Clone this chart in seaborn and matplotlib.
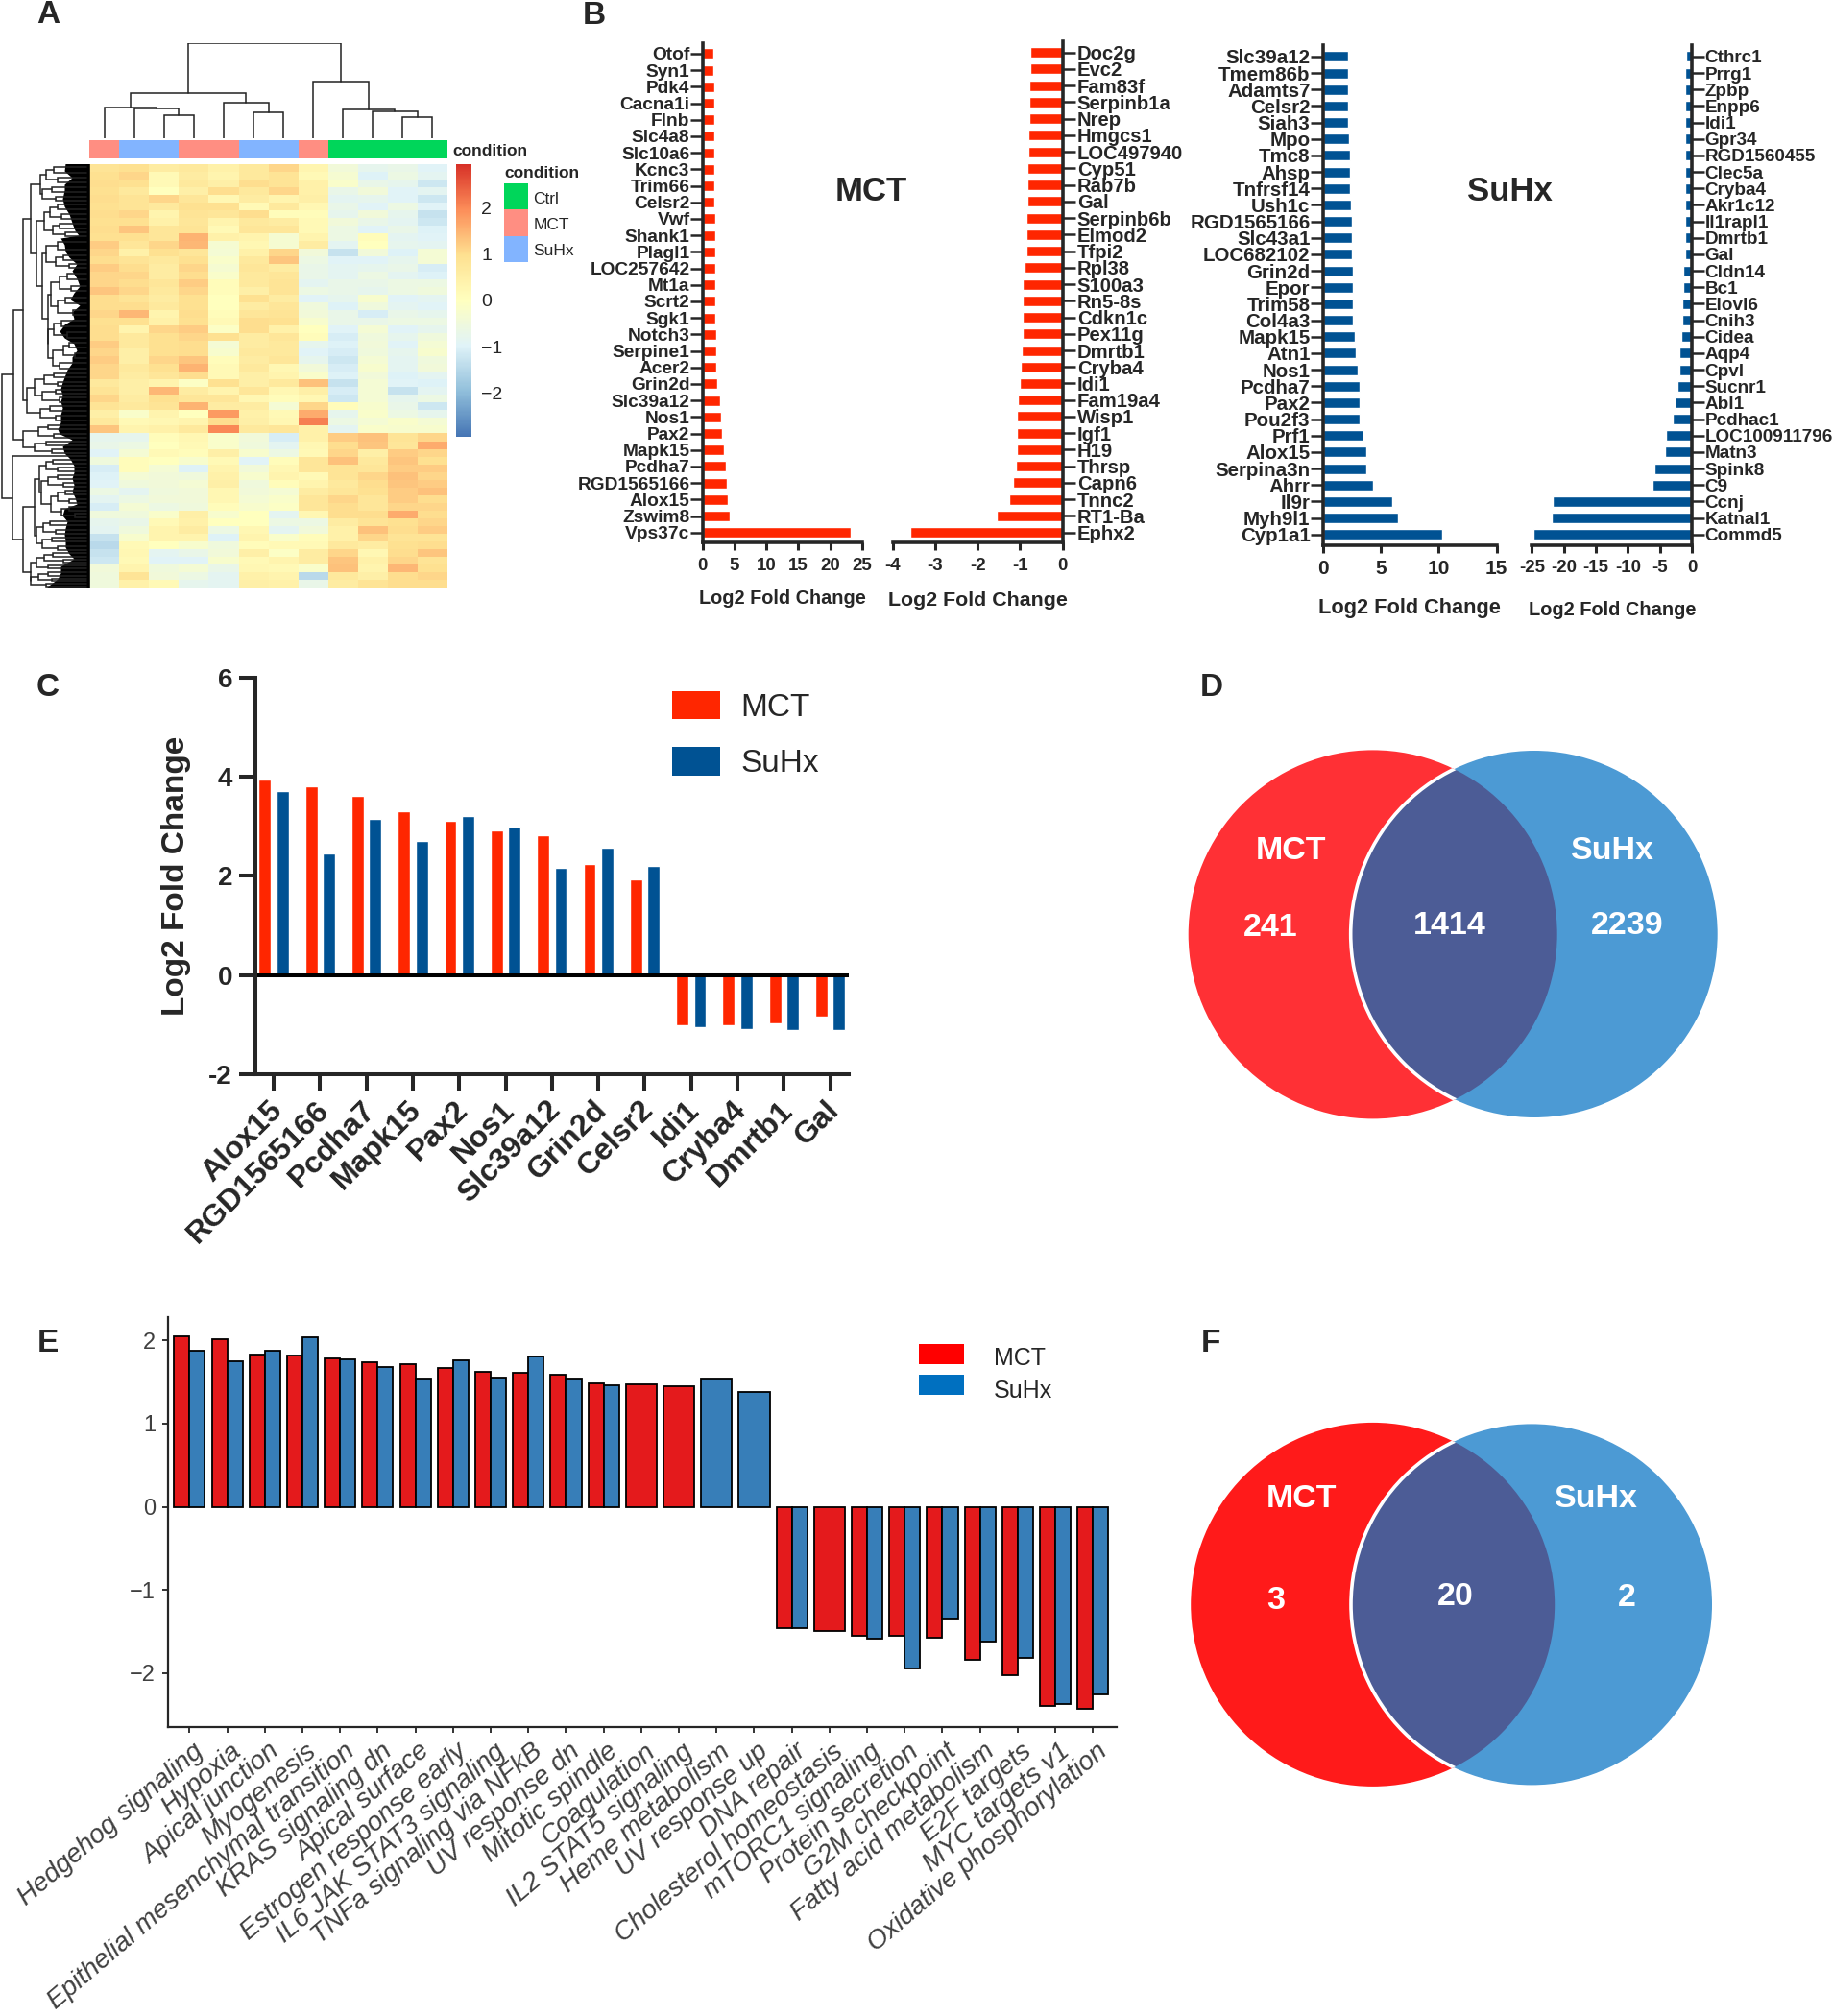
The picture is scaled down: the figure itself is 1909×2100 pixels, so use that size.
import numpy as np
import pandas as pd
import matplotlib
matplotlib.use("Agg")
import matplotlib.pyplot as plt
from matplotlib.colors import LinearSegmentedColormap, ListedColormap
from matplotlib.patches import Circle, Rectangle
import seaborn as sns

# ---- panel A data
conditions = ["MCT", "SuHx", "SuHx", "MCT", "MCT", "SuHx", "SuHx", "MCT", "Ctrl", "Ctrl", "Ctrl", "Ctrl"]
condition_levels = ["Ctrl", "MCT", "SuHx"]
condition_colors = ["#00D65A", "#FF8E82", "#82B4FF"]
heat_colors = ["#4575B4", "#91BFDB", "#E0F3F8", "#FFFFBF", "#FEE090", "#FC8D59", "#D73027"]

heat_rows = [
    [.85, .95, .6, .7, .45, .7, 1.1, .3, -.45, -.8, -.7, -.95],
    [.95, 1.1, .2, .6, .35, .7, .85, .2, -.3, -1.0, -.6, -.85],
    [1.0, .95, .2, .7, .5, 1.0, .85, .45, -.2, -.7, -.8, -1.2],
    [.95, .7, .0, .5, 1.0, .7, 1.1, .45, -.7, -.45, -.95, -.85],
    [1.0, .85, 1.1, .8, .25, .6, .35, .5, -.85, -.8, -.95, -1.2],
    [.95, .85, .7, .95, .95, .2, .7, .25, -.7, -.95, -.6, -.95],
    [1.0, 1.1, .35, .85, .8, 1.0, .1, .1, -.8, -.45, -.8, -1.3],
    [.95, .95, .45, .8, .35, .7, .6, .2, -.45, -.7, -.85, -1.2],
    [1.0, 1.3, .8, .85, .2, .8, .8, .2, -.6, -.95, -.7, -1.0],
    [.95, .95, .8, 1.5, .45, .35, -.3, .35, -.6, .1, -.85, -.95],
    [1.2, .8, 1.1, 1.45, -.3, .25, -.3, .6, -.85, .0, -.8, -.85],
    [1.1, .45, .95, .8, -.35, .45, 1.1, -.45, -1.3, -.45, -1.0, -.35],
    [1.0, .85, .7, .95, -.2, .7, 1.3, -.6, -.95, -.95, -.8, -.35],
    [1.2, 1.0, .6, 1.1, -.3, .8, .6, -.7, -.85, -.8, -.7, -1.1],
    [1.1, 1.1, .6, 1.0, -.2, .7, .8, -.7, -.85, -.6, -.85, -1.0],
    [1.1, 1.0, .8, 1.2, .1, .7, .85, -.85, -.7, -.7, -.6, -.6],
    [1.3, 1.1, .7, 1.1, .1, .5, .85, -.6, -.7, -.8, -.6, -.5],
    [1.0, .85, .6, .95, .0, .95, .6, -.95, -.8, -.25, -.95, -.85],
    [1.0, 1.0, .7, .95, .0, .6, .8, -.5, -1.0, -.5, -.85, -.95],
    [1.1, 1.45, .35, 1.0, .1, .8, .85, -.45, -.7, -1.1, -.7, -.8],
    [.95, .95, .45, .95, .2, 1.0, .95, -.25, -.7, -.7, -.6, -.6],
    [1.0, .35, 1.1, 1.2, -.1, 1.0, .45, .0, -.95, -.35, -.95, -.8],
    [1.0, .7, .95, 1.1, .95, .6, .8, .1, -1.1, -.5, -.8, -.5],
    [1.2, .7, .95, 1.0, -.35, .6, .7, -.8, -1.0, -.45, -.95, -.35],
    [1.1, .5, .95, 1.0, -.25, .7, .7, -.95, -1.1, -.5, -.8, -.25],
    [1.2, .5, 1.1, 1.3, .1, .6, .8, -.8, -1.2, -.35, -.85, -.5],
    [1.1, .7, .95, 1.5, .2, .7, .25, -.45, -1.1, -.25, -.85, -.45],
    [1.1, .6, .8, 1.0, .2, .5, .35, -.2, -1.0, -.45, -1.0, -.85],
    [.7, .5, .35, -.1, .95, .5, .7, 1.35, -1.3, -.35, -.95, -1.0],
    [.85, .5, 1.45, .6, .35, .8, .25, .5, -1.1, -.35, -1.3, -.85],
    [1.1, .6, .95, .8, .8, .25, .1, .25, -1.2, -.35, -.8, -.6],
    [.85, .7, .85, 1.5, .6, .6, -.35, 1.1, .1, -.25, -.7, -1.2],
    [.5, -.2, .35, .0, 1.8, .45, .2, 1.6, -.8, -.2, -.6, -.8],
    [.7, .2, .25, .35, 1.0, .5, .25, 2.1, -.6, -.35, -.2, -.35],
    [1.3, .35, .45, .7, 2.0, .7, .8, .45, -.85, -.2, -.25, -.25],
    [-.8, -.8, .1, .25, -.2, -.45, -1.1, .45, 1.2, 1.35, .85, 1.1],
    [-.7, -.6, .0, .2, -.2, -.5, -.85, .25, 1.0, 1.3, .8, 1.6],
    [-.95, -.35, .2, .1, .5, -.25, -.6, .2, 1.1, .5, 1.2, 1.1],
    [-.5, .1, .0, -.25, .2, -.95, .1, .8, 1.35, .7, 1.3, .95],
    [-1.1, .1, -.35, -1.0, .35, -.45, .25, .8, .85, .8, 1.2, 1.2],
    [-1.0, -.35, -.45, -.5, .45, -.25, .35, .2, .85, 1.1, 1.35, 1.1],
    [-.95, -.5, -.45, -.35, .5, -.5, .1, .35, .7, 1.0, 1.3, 1.2],
    [-.6, -.85, -.5, -.45, .25, -.45, -.35, .6, .8, .95, 1.2, 1.35],
    [-.85, -.6, -.45, -.45, .25, -.35, -.2, .8, 1.1, .8, 1.2, 1.0],
    [-1.1, -.35, -.6, -.5, .1, -.25, -.1, .8, 1.0, .8, 1.1, 1.1],
    [-.5, -.5, -.2, .5, -.25, .0, -.85, .25, 1.0, 1.0, 1.6, 1.0],
    [-.8, -.7, .2, .45, .0, .0, -.6, -.6, .6, .85, .95, 1.1],
    [-.85, -.5, .35, .6, -.6, .25, -.85, -.45, .45, 1.35, 1.0, 1.2],
    [-1.3, -.25, .35, .35, -1.0, .35, -.2, .1, .45, 1.1, .85, .85],
    [-1.45, .2, .0, -.25, -.5, .1, .2, .2, .7, .6, .95, 1.0],
    [-1.3, .25, -.85, -.7, -.45, .5, -.1, .6, 1.1, .25, 1.0, 1.3],
    [-1.2, .2, -.95, -.95, -.25, .2, .35, .6, 1.3, .45, 1.1, .85],
    [-.45, .35, -.5, -.35, -.7, .25, .2, -.2, 1.35, .35, 1.45, .95],
    [-.5, .85, -.45, -.6, -.85, .45, .35, -1.45, .7, .5, 1.0, 1.1],
    [-.5, .45, .2, -.8, -.85, .5, .45, -.7, .6, .85, 1.0, 1.0],
]

# dendrograms: (height, child, child). column leaves are sample numbers
col_tree = (242,
            (114, (78, 0, (76, 1, (57, 2, 3))), (90, 4, (65, 5, 6))),
            (145, 7, (73, 8, (67, 9, (54, 10, 11)))))

# row leaves are the number of rows under the leaf
row_tree = (1.5,
    (14.3,
        (24,
            (32,
                (42, (48, (56, 7, 6), (60, 6, 5)), (44, (54, 6, 6), (58, 5, 4))),
                (38,
                    (46, (52, (60, 6, 5), (64, 6, 5)), (55, (62, 6, 5), (68, 5, 4))),
                    (44,
                        (48, (60, 9, 8), (58, (66, 6, 5), (72, 5, 4))),
                        (50,
                            (53, (62, (70, 8, 7), (74, 7, 6)), (60, (68, 8, 7), (76, 7, 6))),
                            (50, (56, (64, 7, 6), (70, 7, 6)), (55, (66, (72, 6, 6), (78, 6, 5)), (62, 7, 6))))))),
            (28, (36, (46, (56, 5, 5), (60, 5, 4)), (44, (58, 6, 4), (62, 5, 5))), (42, (52, 5, 5), (58, 6, 5)))),
        (24, (40, (50, 6, 5), (56, 5, 4)), (36, (48, 5, 5), (54, 4, 4)))),
    (12.7,
        3,
        (24,
            (35.7,
                (40.7,
                    (47.7, (55, 5, 4), (60, 5, 4)),
                    (43.3, (50, (60, 5, 4), (66, 5, 4)), (53, (60, (68, 5, 5), (72, 5, 4)), (64, (72, 5, 4), (78, 4, 4))))),
                (38.3, (45, (52, 5, 5), (58, 5, 4)), (44, (54, 5, 5), (60, 5, 4)))),
            (31.7, (38, (46, (55, 4, 4), (66, 3, 3)), (50, 4, 4)), (32, (40, (50, 4, 4), (54, 3, 3)), (48, 3, 3))))))

leaf_mass_y = [170, 178, 185, 192, 198, 207, 215, 223, 232, 240, 245, 248, 255, 262, 268, 275, 282, 290, 298, 305,
               312, 318, 325, 332, 338, 345, 352, 358, 365, 372, 378, 385, 398, 405, 412, 418, 425, 432, 440, 447,
               452, 458, 465, 472, 478, 485, 492, 498, 505, 512, 518, 525, 530, 537, 543, 550, 557, 563, 570, 577,
               582, 590, 597, 603, 612]
leaf_mass_edge = [68, 67, 75, 67, 67, 65, 67, 72, 75, 78, 82, 63, 67, 68, 72, 80, 75, 80, 83, 77,
                  73, 83, 75, 77, 67, 62, 67, 77, 80, 75, 75, 70, 65, 63, 65, 63, 65, 63, 63, 60,
                  62, 75, 65, 67, 73, 77, 77, 75, 77, 75, 78, 80, 67, 65, 70, 68, 67, 68, 68, 72,
                  77, 63, 63, 60, 48]

# ---- panel B data
mct_up_genes = ["Otof", "Syn1", "Pdk4", "Cacna1i", "Flnb", "Slc4a8", "Slc10a6", "Kcnc3", "Trim66", "Celsr2",
                "Vwf", "Shank1", "Plagl1", "LOC257642", "Mt1a", "Scrt2", "Sgk1", "Notch3", "Serpine1", "Acer2",
                "Grin2d", "Slc39a12", "Nos1", "Pax2", "Mapk15", "Pcdha7", "RGD1565166", "Alox15", "Zswim8", "Vps37c"]
mct_up = [1.7, 1.75, 1.77, 1.78, 1.8, 1.8, 1.8, 1.85, 1.87, 1.9,
          1.95, 1.95, 1.97, 2.0, 2.05, 2.05, 2.05, 2.1, 2.15, 2.2,
          2.25, 2.8, 2.9, 3.1, 3.3, 3.6, 3.8, 3.95, 4.3, 23.2]

mct_down_genes = ["Doc2g", "Evc2", "Fam83f", "Serpinb1a", "Nrep", "Hmgcs1", "LOC497940", "Cyp51", "Rab7b", "Gal",
                  "Serpinb6b", "Elmod2", "Tfpi2", "Rpl38", "S100a3", "Rn5-8s", "Cdkn1c", "Pex11g", "Dmrtb1", "Cryba4",
                  "Idi1", "Fam19a4", "Wisp1", "Igf1", "H19", "Thrsp", "Capn6", "Tnnc2", "RT1-Ba", "Ephx2"]
mct_down = [-.77, -.77, -.78, -.78, -.79, -.8, -.8, -.82, -.82, -.83,
            -.84, -.85, -.86, -.89, -.93, -.94, -.94, -.95, -.96, -.99,
            -1.0, -1.05, -1.07, -1.08, -1.08, -1.1, -1.16, -1.26, -1.54, -3.58]

suhx_up_genes = ["Slc39a12", "Tmem86b", "Adamts7", "Celsr2", "Siah3", "Mpo", "Tmc8", "Ahsp", "Tnfrsf14", "Ush1c",
                 "RGD1565166", "Slc43a1", "LOC682102", "Grin2d", "Epor", "Trim58", "Col4a3", "Mapk15", "Atn1", "Nos1",
                 "Pcdha7", "Pax2", "Pou2f3", "Prf1", "Alox15", "Serpina3n", "Ahrr", "Il9r", "Myh9l1", "Cyp1a1"]
suhx_up = [2.15, 2.15, 2.17, 2.2, 2.2, 2.26, 2.33, 2.37, 2.37, 2.4,
           2.47, 2.5, 2.52, 2.55, 2.55, 2.57, 2.62, 2.72, 2.87, 2.97,
           3.15, 3.18, 3.2, 3.54, 3.72, 3.72, 4.3, 6.0, 6.47, 10.33]

suhx_down_genes = ["Cthrc1", "Prrg1", "Zpbp", "Enpp6", "Idi1", "Gpr34", "RGD1560455", "Clec5a", "Cryba4", "Akr1c12",
                   "Il1rapl1", "Dmrtb1", "Gal", "Cldn14", "Bc1", "Elovl6", "Cnih3", "Cidea", "Aqp4", "Cpvl",
                   "Sucnr1", "Abl1", "Pcdhac1", "LOC100911796", "Matn3", "Spink8", "C9", "Ccnj", "Katnal1", "Commd5"]
suhx_down = [-1.0, -1.03, -1.05, -1.05, -1.1, -1.1, -1.1, -1.12, -1.12, -1.12,
             -1.15, -1.15, -1.15, -1.35, -1.45, -1.5, -1.55, -1.75, -2.0, -2.05,
             -2.25, -2.75, -3.0, -4.1, -4.2, -5.95, -6.25, -21.7, -21.9, -24.7]

# ---- panel C data
shared_genes = ["Alox15", "RGD1565166", "Pcdha7", "Mapk15", "Pax2", "Nos1", "Slc39a12",
                "Grin2d", "Celsr2", "Idi1", "Cryba4", "Dmrtb1", "Gal"]
shared_mct = [3.95, 3.8, 3.62, 3.3, 3.12, 2.91, 2.83, 2.25, 1.93, -1.0, -1.0, -.97, -.83]
shared_suhx = [3.72, 2.45, 3.15, 2.71, 3.2, 3.0, 2.17, 2.57, 2.2, -1.05, -1.08, -1.1, -1.1]

# ---- panel E data
pathways = ["Hedgehog signaling", "Hypoxia", "Apical junction", "Myogenesis", "Epithelial mesenchymal transition",
            "KRAS signaling dn", "Apical surface", "Estrogen response early", "IL6 JAK STAT3 signaling",
            "TNFa signaling via NFkB", "UV response dn", "Mitotic spindle", "Coagulation", "IL2 STAT5 signaling",
            "Heme metabolism", "UV response up", "DNA repair", "Cholesterol homeostasis", "mTORC1 signaling",
            "Protein secretion", "G2M checkpoint", "Fatty acid metabolism", "E2F targets", "MYC targets v1",
            "Oxidative phosphorylation"]
nes_mct = [2.05, 2.02, 1.83, 1.82, 1.78, 1.74, 1.72, 1.67, 1.62, 1.61, 1.59, 1.48, 1.47, 1.455, np.nan, np.nan,
           -1.455, -1.49, -1.55, -1.55, -1.575, -1.84, -2.03, -2.40, -2.43]
nes_suhx = [1.88, 1.75, 1.88, 2.04, 1.77, 1.68, 1.54, 1.76, 1.55, 1.81, 1.54, 1.46, np.nan, np.nan, 1.54, 1.38,
            -1.46, np.nan, -1.59, -1.94, -1.345, -1.625, -1.82, -2.375, -2.255]

# ---- venn counts
venn_d = [241, 1414, 2239]
venn_f = [3, 20, 2]

RED = "#FF2600"
BLUE = "#005293"
W, H = 1909, 2100

sns.set_theme(style="ticks")
plt.rcParams["font.family"] = ["Liberation Sans", "DejaVu Sans"]

fig = plt.figure(figsize=(W / 100, H / 100), dpi=100)


def box(x0, y0, x1, y1):
    # axes from pixel corners of the picture
    return fig.add_axes([x0 / W, 1 - y1 / H, (x1 - x0) / W, (y1 - y0) / H])


# everything placed by hand goes on this see-through page
page = box(0, 0, W, H)
page.set_xlim(0, W)
page.set_ylim(H, 0)
page.axis("off")
page.set_zorder(10)


def put(x, y, s, size, bold=True, **kw):
    kw.setdefault("ha", "center")
    kw.setdefault("va", "center")
    if "rotation" not in kw:
        y = y + 2.5  # font box sits a bit high
    page.text(x, y, s, fontsize=size, fontweight="bold" if bold else "normal", **kw)


def slanted(ax, labels, angle, dx, dy, **kw):
    # tick labels written as annotations so they can be shifted by pixels
    ax.tick_params(axis="x", labelbottom=False)
    for i, s in enumerate(labels):
        ax.annotate(s, xy=(i, 0), xycoords=ax.get_xaxis_transform(), xytext=(dx, dy), textcoords="offset pixels",
                    rotation=angle, ha="right", va="top", rotation_mode="anchor", annotation_clip=False, **kw)


for letter, lx, ly in [("A", 50, 13), ("B", 619, 14), ("C", 50, 714), ("D", 1262, 714), ("E", 50, 1397), ("F", 1261, 1397)]:
    put(lx, ly, letter, 24)

# ---- A
hm_ax = box(93.3, 170.6, 465.8, 612)
cb_ax = box(474.5, 170.6, 491.5, 455)
sns.heatmap(np.array(heat_rows), ax=hm_ax, cbar_ax=cb_ax, cmap=LinearSegmentedColormap.from_list("pheat", heat_colors),
            vmin=-2.94, vmax=2.94, xticklabels=False, yticklabels=False)
cbar = hm_ax.collections[0].colorbar
cbar.outline.set_visible(False)
cbar.set_ticks([-2, -1, 0, 1, 2])
cbar.ax.tick_params(length=0, labelsize=14, pad=7)

ann_ax = box(93.3, 146, 465.8, 165)
ann_codes = np.array([[condition_levels.index(c) for c in conditions]])
sns.heatmap(ann_codes, ax=ann_ax, cmap=ListedColormap(condition_colors), cbar=False, vmin=-.5, vmax=2.5,
            xticklabels=False, yticklabels=False)

col_ax = box(93.3, 45, 465.8, 143.7)
col_ax.set_xlim(0, 12)
col_ax.set_ylim(0, 242)
col_ax.axis("off")


def draw_col(node):
    if not isinstance(node, tuple):
        return node + .5, 0
    h, a, b = node
    xa, ha = draw_col(a)
    xb, hb = draw_col(b)
    col_ax.plot([xa, xa, xb, xb], [ha, h, h, hb], color="#222222", lw=1.1, solid_joinstyle="miter")
    return (xa + xb) / 2, h


draw_col(col_tree)

row_ax = box(0, 170.6, 93.3, 612)
row_ax.set_xlim(0, 93.3)
row_ax.set_ylim(612, 170.6)
row_ax.axis("off")
row_ax.fill_betweenx(leaf_mass_y, leaf_mass_edge, 93.3, color="black", lw=0)


def leaf_total(node):
    if not isinstance(node, tuple):
        return node
    return leaf_total(node[1]) + leaf_total(node[2])


row_scale = (612 - 170.6) / leaf_total(row_tree)
row_cursor = 170.6


def draw_row(node):
    global row_cursor
    if not isinstance(node, tuple):
        y = row_cursor + node * row_scale / 2
        row_cursor += node * row_scale
        return y, 90
    x, a, b = node
    ya, xa = draw_row(a)
    yb, xb = draw_row(b)
    row_ax.plot([xa, x, x, xb], [ya, ya, yb, yb], color="#222222", lw=1.1, solid_joinstyle="miter")
    return (ya + yb) / 2, x


draw_row(row_tree)

put(471, 155.5, "condition", 12.5, ha="left")
put(525, 178, "condition", 12.5, ha="left")
for i, (lev, colr) in enumerate(zip(condition_levels, condition_colors)):
    page.add_patch(Rectangle((525, 191 + i * 27.3), 25, 27.3, facecolor=colr, edgecolor="none"))
    put(555.5, 204.5 + i * 27.3, lev, 12.5, bold=False, ha="left")


# ---- B
def gene_bars(rect, genes, values, color, xlim, xticks, first, step, right, size, tick_size=13.5, pad=0):
    ax = box(*rect)
    sns.barplot(x=values, y=genes, orient="h", color=color, saturation=1, width=.64, ax=ax)
    ax.set_xlim(*xlim)
    ax.set_ylim((rect[3] - first) / step, (rect[1] - first) / step)
    ax.set_xticks(xticks)
    ax.set_xticklabels([str(t) for t in xticks], fontweight="bold", fontsize=tick_size)
    sns.despine(ax=ax, left=right, right=not right)
    for s in ax.spines.values():
        s.set_linewidth(2.6)
    ax.tick_params(axis="x", length=6, width=2.2, pad=5)
    if right:
        ax.yaxis.tick_right()
    ax.tick_params(axis="y", length=9.5, width=1.8, pad=pad, labelsize=size)
    for lab in ax.get_yticklabels():
        lab.set_fontweight("bold")
    ax.set_xlabel("")
    ax.set_ylabel("")
    return ax


gene_bars((731.8, 44.9, 897.7, 565.3), mct_up_genes, mct_up, RED, (0, 25), [0, 5, 10, 15, 20, 25], 55.9, 17.2, False, 13.8)
gene_bars((929.6, 42.9, 1106.6, 565.3), mct_down_genes, mct_down, RED, (-4, 0), [-4, -3, -2, -1, 0], 54.7, 17.24, True, 14.6, pad=1.5)
gene_bars((1377.8, 47.1, 1558.7, 568.2), suhx_up_genes, suhx_up, BLUE, (0, 15), [0, 5, 10, 15], 58.9, 17.17, False, 14.8, 15)
gene_bars((1595.4, 47.1, 1762.2, 568.2), suhx_down_genes, suhx_down, BLUE, (-25, 0), [-25, -20, -15, -10, -5, 0], 58.9, 17.17, True, 13.6)

put(907.6, 196.7, "MCT", 25)
put(1572, 197, "SuHx", 25)
put(815, 621, "Log2 Fold Change", 14.3)
put(1018.7, 623, "Log2 Fold Change", 15.4)
put(1467.8, 631, "Log2 Fold Change", 15.7)
put(1679, 632.6, "Log2 Fold Change", 14.4)

# ---- C
c_ax = box(265.7, 705.7, 884, 1119.2)
c_table = pd.DataFrame({"gene": shared_genes, "MCT": shared_mct, "SuHx": shared_suhx}).melt("gene", var_name="group", value_name="lfc")
sns.barplot(data=c_table, x="gene", y="lfc", hue="group", palette=[RED, BLUE], saturation=1, width=.76, gap=.3,
            legend=False, ax=c_ax)
c_ax.set_xlim(-.4, 12.4)
c_ax.set_ylim(-2, 6)
c_ax.axhline(0, color="black", lw=2.9)
c_ax.set_yticks([-2, 0, 2, 4, 6])
c_ax.set_yticklabels(["-2", "0", "2", "4", "6"], fontweight="bold", fontsize=20)
c_ax.set_xticks(range(len(shared_genes)))
slanted(c_ax, shared_genes, 45, -6, -22, fontweight="bold", fontsize=23)
sns.despine(ax=c_ax)
for s in c_ax.spines.values():
    s.set_linewidth(2.9)
c_ax.tick_params(axis="both", length=12, width=2.9, pad=5)
c_ax.set_xlabel("")
c_ax.set_ylabel("")
put(183.5, 912.6, "Log2 Fold Change", 24, rotation=90)

page.add_patch(Rectangle((700, 720), 50, 29.4, facecolor=RED, edgecolor="none"))
page.add_patch(Rectangle((700, 778), 50, 29.8, facecolor=BLUE, edgecolor="none"))
put(771, 734.7, "MCT", 24, bold=False, ha="left")
put(771, 792.7, "SuHx", 24, bold=False, ha="left")

# ---- E
e_ax = box(174.5, 1371.8, 1163, 1798.9)
e_wide = pd.DataFrame({"pathway": pathways, "MCT": nes_mct, "SuHx": nes_suhx})
e_long = e_wide.melt("pathway", var_name="group", value_name="nes").dropna()
n_groups = e_long.groupby("pathway")["nes"].transform("count")
e_pal = {"MCT": "#E41A1C", "SuHx": "#377EB8"}
# pathways found in both groups sit side by side, the others take the whole slot
sns.barplot(data=e_long[n_groups == 2], x="pathway", y="nes", hue="group", hue_order=["MCT", "SuHx"], order=pathways,
            palette=e_pal, saturation=1, width=.82, edgecolor="black", linewidth=1.3, legend=False, ax=e_ax)
sns.barplot(data=e_long[n_groups == 1], x="pathway", y="nes", hue="group", hue_order=["MCT", "SuHx"], order=pathways,
            palette=e_pal, saturation=1, width=.82, dodge=False, edgecolor="black", linewidth=1.3, legend=False, ax=e_ax)
e_ax.set_xlim(-.584, 24.63)
e_ax.set_ylim(-2.649, 2.283)
e_ax.set_yticks([-2, -1, 0, 1, 2])
e_ax.set_yticklabels(["\u22122", "\u22121", "0", "1", "2"], fontsize=17, color="#404040")
e_ax.set_xticks(range(len(pathways)))
slanted(e_ax, pathways, 40.5, 3, -12.5, fontsize=20, style="italic", color="#404040")
sns.despine(ax=e_ax)
for s in e_ax.spines.values():
    s.set_linewidth(1.6)
e_ax.tick_params(axis="both", length=4, width=1.4, pad=5, color="#333333")
e_ax.set_xlabel("")
e_ax.set_ylabel("")
page.add_patch(Rectangle((957, 1400), 47, 21, facecolor="#FF0000", edgecolor="none"))
page.add_patch(Rectangle((957, 1432), 47, 21, facecolor="#0070C0", edgecolor="none"))
put(1035, 1413, "MCT", 18, bold=False, ha="left")
put(1035, 1446, "SuHx", 18, bold=False, ha="left")


# ---- D and F
def venn(cl, rl, cr, rr, red, counts, text_pos):
    left = Circle(cl, rl, facecolor=red, edgecolor="none", zorder=1)
    page.add_patch(left)
    page.add_patch(Circle(cr, rr, facecolor="#4C9AD4", edgecolor="none", zorder=2))
    mid = Circle(cr, rr, facecolor="#4C5C96", edgecolor="none", zorder=3)
    page.add_patch(mid)
    mid.set_clip_path(left)
    arc = Circle(cr, rr, facecolor="none", edgecolor="white", lw=2.6, zorder=4)
    page.add_patch(arc)
    arc.set_clip_path(left)
    for (tx, ty), s in zip(text_pos, ["MCT", "SuHx"] + [str(c) for c in counts]):
        put(tx, ty, s, 24.5, color="white", zorder=5)


venn((1429.7, 973.4), 192, (1597.7, 973), 191, "#FF3035", venn_d,
     [(1344.8, 884.3), (1679, 884), (1323.7, 964), (1510, 962), (1695, 962)])
venn((1429.7, 1671.4), 189.5, (1595, 1671.4), 188, "#FF1A1A", venn_f,
     [(1355.9, 1559.3), (1662.8, 1559.3), (1328.3, 1664.7), (1515.4, 1661.3), (1694.6, 1662.3)])

fig.savefig("out.png", dpi=100)
